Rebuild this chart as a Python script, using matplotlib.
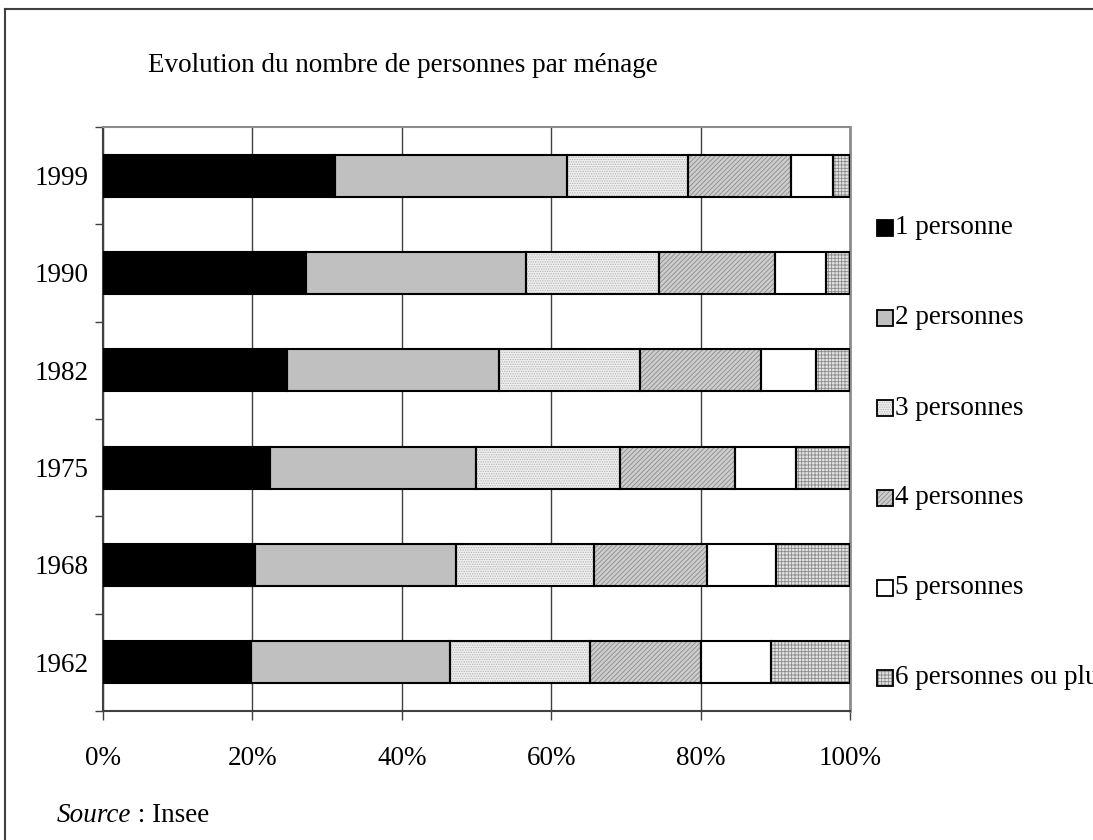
import numpy as np
import matplotlib
matplotlib.use("Agg")
import matplotlib.pyplot as plt
from matplotlib.patches import Rectangle
from matplotlib.lines import Line2D

plt.rcParams['font.family'] = ['Liberation Serif', 'DejaVu Serif']
plt.rcParams['hatch.linewidth'] = 0.6

# data (shares in %)
years = ['1962', '1968', '1975', '1982', '1990', '1999']
one_p = [19.8, 20.3, 22.3, 24.6, 27.2, 31.1]
two_p = [26.7, 27.0, 27.6, 28.4, 29.4, 31.0]
three_p = [18.7, 18.4, 19.3, 18.9, 17.8, 16.2]
four_p = [14.8, 15.2, 15.4, 16.2, 15.6, 13.8]
five_p = [9.4, 9.2, 8.2, 7.3, 6.8, 5.6]
six_p = [10.6, 9.9, 7.2, 4.6, 3.2, 2.3]
labels = ['1 personne', '2 personnes', '3 personnes', '4 personnes',
          '5 personnes', '6 personnes ou plus']
x_ticks = [0, 20, 40, 60, 80, 100]

# styles: facecolor, hatch, hatch colour
styles = [
    ('black', None, 'black'),
    ('#c0c0c0', None, '#c0c0c0'),
    ('#eeeeee', '.......', '#b4b4b4'),
    ('#cdcdcd', '///////', '#8c8c8c'),
    ('white', None, 'white'),
    ('#e4e4e4', '+++++', '#8a8a8a'),
]

W, H = 1093, 840
fs = 19.5
fig = plt.figure(figsize=(W / 100, H / 100), dpi=100)
ax = fig.add_axes([103 / W, 1 - 711 / H, 747 / W, 584 / H])

series = np.array([one_p, two_p, three_p, four_p, five_p, six_p], dtype=float)
series = series / series.sum(axis=0) * 100
y = np.arange(len(years))
left = np.zeros(len(years))
bh = 0.43
for vals, (fc, hatch, hc) in zip(series, styles):
    ax.barh(y, vals, left=left, height=bh, color=fc, edgecolor=hc,
            hatch=hatch, linewidth=0, zorder=2)
    ax.barh(y, vals, left=left, height=bh, fill=False,
            edgecolor='black', linewidth=1.5, zorder=3)
    left += vals

ax.set_xlim(0, 100)
ax.set_ylim(-0.5, len(years) - 0.5)
ax.set_xticks(x_ticks, [f'{v}%' for v in x_ticks])
ax.set_yticks(y, years)
ax.set_yticks(np.arange(-0.5, len(years), 1), minor=True)
ax.tick_params(axis='x', direction='out', length=6.5, width=1,
               color='#404040', pad=18.5, labelsize=fs)
ax.tick_params(axis='y', which='major', length=0, pad=10.5, labelsize=fs)
ax.tick_params(axis='y', which='minor', direction='out', length=5.8,
               width=1, color='#404040')
ax.xaxis.grid(True, color='#404040', linewidth=1)
ax.set_axisbelow(True)
ax.spines['left'].set_color('#404040')
ax.spines['left'].set_linewidth(1.5)
ax.spines['bottom'].set_color('#404040')
ax.spines['bottom'].set_linewidth(1.5)
ax.spines['top'].set_color('#8c8c8c')
ax.spines['top'].set_linewidth(1.5)
ax.spines['right'].set_color('#8c8c8c')
ax.spines['right'].set_linewidth(2)

# legend drawn by hand (last label runs off the right edge, as in the original)
for i, (lab, (fc, hatch, hc)) in enumerate(zip(labels, styles)):
    cy = 228 + 90 * i
    box = (877 / W, 1 - (cy + 8) / H)
    fig.add_artist(Rectangle(box, 16 / W, 16 / H, transform=fig.transFigure,
                             facecolor=fc, edgecolor=hc, hatch=hatch,
                             linewidth=0))
    fig.add_artist(Rectangle(box, 16 / W, 16 / H, transform=fig.transFigure,
                             fill=False, edgecolor='black', linewidth=1.3))
    fig.text(895 / W, 1 - cy / H, lab, fontsize=fs, va='center', ha='left')

fig.text(148 / W, 1 - 65 / H, 'Evolution du nombre de personnes par ménage',
         fontsize=fs, va='center', ha='left')
t1 = fig.text(57 / W, 1 - 815 / H, 'Source', fontsize=fs, style='italic',
              va='center', ha='left')
ax.annotate(' : Insee', xy=(1, 0), xycoords=t1, fontsize=fs,
            va='bottom', ha='left', annotation_clip=False)

# outer frame
fig.add_artist(Line2D([5 / W, 5 / W], [0, 1 - 9 / H], transform=fig.transFigure,
                      color='#404040', linewidth=1.5))
fig.add_artist(Line2D([5 / W, 1], [1 - 9 / H, 1 - 9 / H],
                      transform=fig.transFigure, color='#404040', linewidth=1.5))

fig.savefig('out.png', dpi=100)
